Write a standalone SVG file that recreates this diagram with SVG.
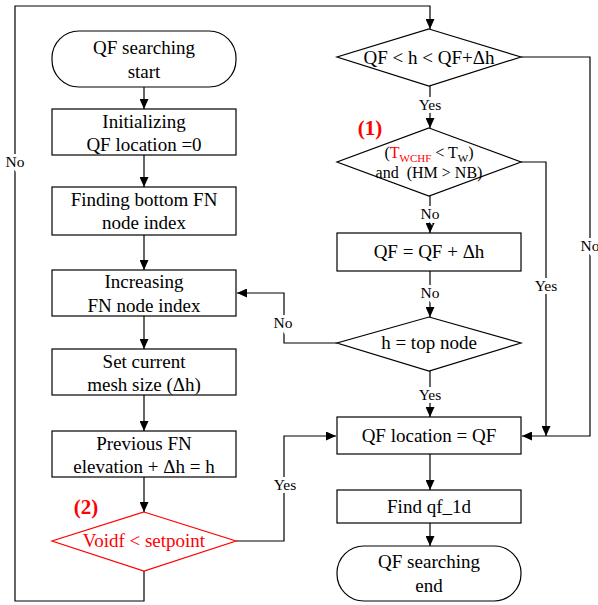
<svg xmlns="http://www.w3.org/2000/svg" width="598" height="605" viewBox="0 0 598 605" font-family="'Liberation Serif', 'Times New Roman', Times, serif">
<defs>
<marker id="arr" markerUnits="userSpaceOnUse" markerWidth="10" markerHeight="9" refX="10" refY="4.5" orient="auto">
<path d="M0,0 L10,4.5 L0,9 z" fill="#000"/>
</marker>
<style>
text{font-family:'Liberation Serif','Times New Roman',Times,serif}
.n{fill:#fff;stroke:#000;stroke-width:1.2}
.r{fill:#fff;stroke:#f00;stroke-width:1.2}
.t{font-size:19px;fill:#000;text-anchor:middle}
.s{font-size:16px;fill:#000;text-anchor:middle}
.l{font-size:15.5px;fill:#000;text-anchor:middle;stroke:#fff;stroke-width:6;paint-order:stroke}
.c{fill:none;stroke:#000;stroke-width:1.2}
.b{font-size:21px;font-weight:bold;fill:#f00;text-anchor:middle}
</style>
</defs>
<g id="connectors">
<path class="c" d="M144,87 V109" marker-end="url(#arr)"/>
<path class="c" d="M144,155 V187" marker-end="url(#arr)"/>
<path class="c" d="M144,235 V270" marker-end="url(#arr)"/>
<path class="c" d="M144,316 V349" marker-end="url(#arr)"/>
<path class="c" d="M144,395 V431" marker-end="url(#arr)"/>
<path class="c" d="M144,477 V512" marker-end="url(#arr)"/>
<path class="c" d="M144,571 V601 H15 V6 H430 V29" marker-end="url(#arr)"/>
<path class="c" d="M236,541 H284 V436 H336" marker-end="url(#arr)"/>
<path class="c" d="M430,86 V128" marker-end="url(#arr)"/>
<path class="c" d="M521,57 H590 V436 H522" marker-end="url(#arr)"/>
<path class="c" d="M430,196 V233" marker-end="url(#arr)"/>
<path class="c" d="M521,162 H546 V436" marker-end="url(#arr)"/>
<path class="c" d="M430,271 V317" marker-end="url(#arr)"/>
<path class="c" d="M337,343 H284 V293 H237" marker-end="url(#arr)"/>
<path class="c" d="M430,371 V417" marker-end="url(#arr)"/>
<path class="c" d="M430,454 V490" marker-end="url(#arr)"/>
<path class="c" d="M430,523 V546" marker-end="url(#arr)"/>
</g>
<g id="labels">
<text class="l" x="15" y="167">No</text>
<text class="l" x="430" y="110">Yes</text>
<text class="l" x="430" y="219">No</text>
<text class="l" x="430" y="298">No</text>
<text class="l" x="283" y="328">No</text>
<text class="l" x="430" y="400">Yes</text>
<text class="l" x="546" y="291">Yes</text>
<text class="l" x="590" y="251">No</text>
<text class="l" x="285" y="490">Yes</text>
<text class="b" x="370" y="135">(1)</text>
<text class="b" x="86" y="514">(2)</text>
</g>
<g id="start">
<rect class="n" x="52" y="31" width="184" height="56" rx="27" ry="27"/>
<text class="t" x="144" y="54">QF searching</text>
<text class="t" x="144" y="78">start</text>
</g>
<g id="init">
<rect class="n" x="52" y="109" width="184" height="46"/>
<text class="t" x="144" y="128">Initializing</text>
<text class="t" x="144" y="151">QF location =0</text>
</g>
<g id="findbottom">
<rect class="n" x="52" y="187" width="184" height="48"/>
<text class="t" x="144" y="206">Finding bottom FN</text>
<text class="t" x="144" y="229">node index</text>
</g>
<g id="increase">
<rect class="n" x="52" y="270" width="184" height="46"/>
<text class="t" x="144" y="288">Increasing</text>
<text class="t" x="144" y="312">FN node index</text>
</g>
<g id="setmesh">
<rect class="n" x="52" y="349" width="184" height="46"/>
<text class="t" x="144" y="368">Set current</text>
<text class="t" x="144" y="391">mesh size (Δh)</text>
</g>
<g id="prevfn">
<rect class="n" x="52" y="431" width="184" height="46"/>
<text class="t" x="144" y="450">Previous FN</text>
<text class="t" x="144" y="473">elevation + Δh = h</text>
</g>
<g id="voidf">
<polygon class="r" points="144,512 236,541 144,571 52,541"/>
<text class="t" x="144" y="547" style="fill:#f00">Voidf &lt; setpoint</text>
</g>
<g id="cond1">
<polygon class="n" points="429,29 521,57 429,86 337,57"/>
<text class="t" x="429" y="64">QF &lt; h &lt; QF+Δh</text>
</g>
<g id="cond2">
<polygon class="n" points="429,128 521,162 429,196 337,162"/>
<text class="s" x="429" y="158">(<tspan fill="#f00">T<tspan font-size="11" dy="4">WCHF</tspan></tspan><tspan dy="-4"> &lt; T</tspan><tspan font-size="11" dy="4">W</tspan><tspan dy="-4">)</tspan></text>
<text class="s" x="429" y="178" xml:space="preserve">and  (HM &gt; NB)</text>
</g>
<g id="qfinc">
<rect class="n" x="337" y="233" width="184" height="38"/>
<text class="t" x="429" y="258">QF = QF + Δh</text>
</g>
<g id="topnode">
<polygon class="n" points="429,317 521,343 429,371 337,343"/>
<text class="t" x="429" y="349">h = top node</text>
</g>
<g id="qfloc">
<rect class="n" x="337" y="417" width="184" height="37"/>
<text class="t" x="429" y="442">QF location = QF</text>
</g>
<g id="findqf">
<rect class="n" x="337" y="490" width="184" height="33"/>
<text class="t" x="429" y="513">Find qf_1d</text>
</g>
<g id="end">
<rect class="n" x="337" y="546" width="184" height="55" rx="27" ry="27"/>
<text class="t" x="429" y="568">QF searching</text>
<text class="t" x="429" y="592">end</text>
</g>
</svg>
